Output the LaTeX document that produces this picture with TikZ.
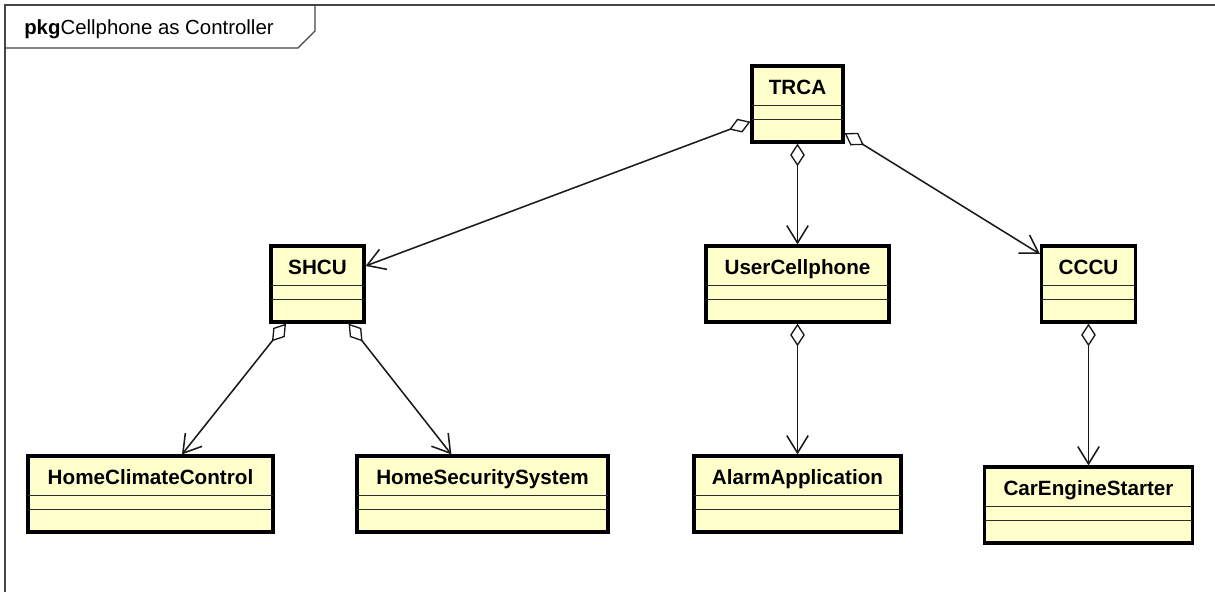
\documentclass[tikz,border=0pt]{standalone}
\usepackage{fontspec}
\setmainfont{Liberation Sans}
\usetikzlibrary{arrows.meta,calc}
\definecolor{boxfill}{RGB}{255,255,204}
\definecolor{framecol}{RGB}{70,70,70}
\definecolor{seplinecol}{RGB}{45,45,45}
\tikzset{
  umlclass/.style={draw=black, line width=2.4pt, fill=boxfill, rectangle,
    inner sep=0pt, minimum height=57pt},
  namelabel/.style={anchor=base, inner sep=0pt, font=\fontsize{15.5}{18}\selectfont\bfseries},
  sepline/.style={draw=seplinecol, line width=1pt},
  agg/.style={draw=black!90, line width=1.15pt,
    {Diamond[open, fill=white, length=17pt, width=11pt, line width=1pt]}-{Straight Barb[length=13pt, width=16pt, line width=1.15pt]}},
  framestyle/.style={draw=framecol, line width=0.9pt}
}
\newcommand{\umlclassbox}[5]{% name, cx, cy, width(px), label
  \node[umlclass, minimum width=#4*0.75pt] (#1) at (#2,#3) {};
  \node[namelabel] (#1lbl) at ($(#1.north)+(0,30)$) {#5};
  \draw[sepline] ($(#1.north west)+(1.8,41)$) -- ($(#1.north east)+(-1.8,41)$);
  \draw[sepline] ($(#1.north west)+(1.8,55)$) -- ($(#1.north east)+(-1.8,55)$);
}
\begin{document}
\begin{tikzpicture}[x=0.75pt, y=-0.75pt]
\useasboundingbox (0,0) rectangle (1215,592);
% frame
\draw[framestyle] (5,600) -- (5,5) -- (1220,5);
\draw[framestyle] (5,48) -- (298,48) -- (315,31) -- (315,5);
\node[anchor=base west, inner sep=0pt, font=\fontsize{15.3}{18}\selectfont] (title) at (24,35) {\textbf{pkg}Cellphone as Controller};
% classes
\umlclassbox{TRCA}{797.5}{104}{91}{TRCA}
\umlclassbox{SHCU}{317.5}{284}{93}{SHCU}
\umlclassbox{UC}{797.5}{284}{183}{UserCellphone}
\umlclassbox{CCCU}{1088.5}{284}{94}{CCCU}
\umlclassbox{HCC}{150.5}{494}{245}{HomeClimateControl}
\umlclassbox{HSS}{482.5}{494}{251}{HomeSecuritySystem}
\umlclassbox{AA}{797.5}{494}{207}{AlarmApplication}
\umlclassbox{CES}{1088.5}{505}{208}{CarEngineStarter}
% associations
\draw[agg] (TRCA) -- (SHCU);
\draw[agg] (TRCA) -- (UC);
\draw[agg] (TRCA) -- (CCCU);
\draw[agg] (SHCU) -- (HCC);
\draw[agg] (SHCU) -- (HSS);
\draw[agg] (UC) -- (AA);
\draw[agg] (CCCU) -- (CES);
\end{tikzpicture}
\end{document}
